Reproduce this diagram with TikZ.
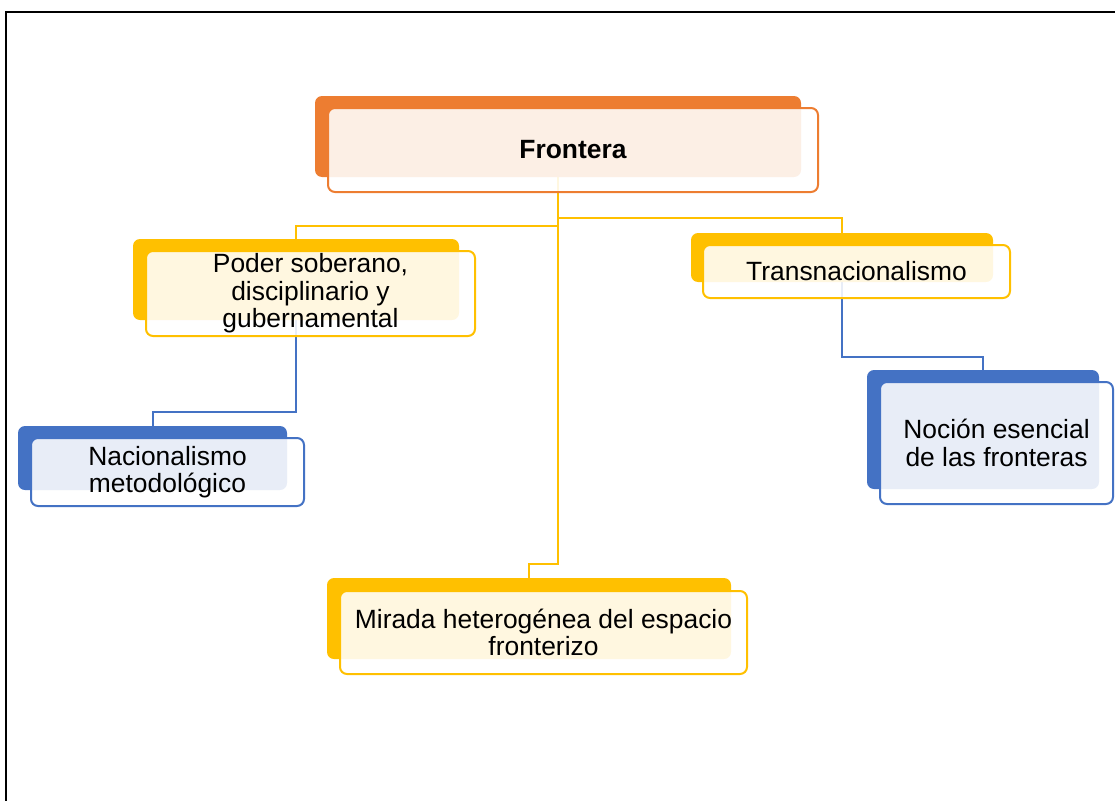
\documentclass[tikz,border=0pt]{standalone}
\usepackage{fontspec}
\setmainfont{Liberation Sans}
\usetikzlibrary{backgrounds}
\definecolor{accOrange}{HTML}{ED7D31}
\definecolor{accGold}{HTML}{FFC000}
\definecolor{accBlue}{HTML}{4472C4}
\begin{document}
\begin{tikzpicture}[x=1pt,y=-1pt,
  backbox/.style={rectangle, rounded corners=7pt, inner sep=0pt, draw=none},
  frontbox/.style={rectangle, rounded corners=7pt, inner sep=0pt, line width=2pt,
    fill=white, fill opacity=0.88, text opacity=1, align=center,
    font=\fontsize{26.4}{27.5}\selectfont},
  link/.style={line width=2pt}]
\useasboundingbox (0,0) rectangle (1115,800);

% page frame (top and left edges)
\draw[line width=2.5pt] (1120,12) -- (6,12) -- (6,805);

% root
\node[backbox, fill=accOrange, minimum width=486pt, minimum height=81pt] (fronteraB) at (558,136.5) {};
\node[frontbox, draw=accOrange, minimum width=490pt, minimum height=84pt] (frontera) at (573,150) {\bfseries Frontera};

% second level
\node[backbox, fill=accGold, minimum width=326pt, minimum height=81pt] (poderB) at (296,279.5) {};
\node[frontbox, draw=accGold, minimum width=329pt, minimum height=85pt] (poder) at (310.5,293.5) {Poder soberano,\\disciplinario y\\gubernamental};

\node[backbox, fill=accGold, minimum width=302pt, minimum height=49pt] (transB) at (842,257.5) {};
\node[frontbox, draw=accGold, minimum width=307pt, minimum height=53pt] (trans) at (856.5,271.5) {Transnacionalismo};

\node[backbox, fill=accGold, minimum width=404pt, minimum height=81pt] (miradaB) at (529,618.5) {};
\node[frontbox, draw=accGold, minimum width=407pt, minimum height=83pt] (mirada) at (543.5,632.5) {Mirada heterogénea del espacio\\fronterizo};

% third level
\node[backbox, fill=accBlue, minimum width=269pt, minimum height=64pt] (nacionB) at (152.5,458) {};
\node[frontbox, draw=accBlue, minimum width=273pt, minimum height=68pt] (nacion) at (167.5,472) {Nacionalismo\\metodológico};

\node[backbox, fill=accBlue, minimum width=232pt, minimum height=119pt] (nocionB) at (983,429.5) {};
\node[frontbox, draw=accBlue, minimum width=233pt, minimum height=122pt] (nocion) at (996.5,443) {Noción esencial\\de las fronteras};

% elbow connectors, under the boxes
\begin{scope}[on background layer]
  \coordinate (elbowP) at (0,226);
  \coordinate (elbowT) at (0,218);
  \coordinate (elbowM) at (0,564);
  \coordinate (elbowN) at (0,412);
  \coordinate (elbowC) at (0,357);
  \draw[link, accGold] (fronteraB.south) -- (fronteraB.south |- elbowP) -| (poderB.north);
  \draw[link, accGold] (fronteraB.south) -- (fronteraB.south |- elbowT) -| (transB.north);
  \draw[link, accGold] (fronteraB.south) -- (fronteraB.south |- elbowM) -| (miradaB.north);
  \draw[link, accBlue] (poderB.south) -- (poderB.south |- elbowN) -| (nacionB.north);
  \draw[link, accBlue] (transB.south) -- (transB.south |- elbowC) -| (nocionB.north);
\end{scope}
\end{tikzpicture}
\end{document}
